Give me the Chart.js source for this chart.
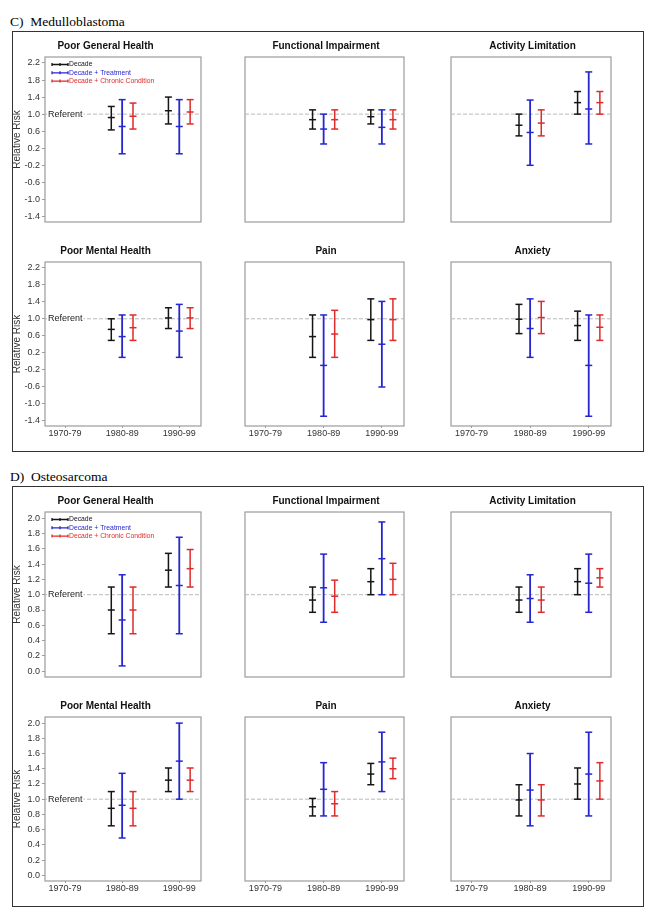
<!DOCTYPE html>
<html>
<head>
<meta charset="utf-8">
<script src="https://cdn.jsdelivr.net/npm/chart.js@4.4.0/dist/chart.umd.min.js"></script>
<style>
  body { margin: 0; background: #fff; width: 654px; height: 915px; position: relative; overflow: hidden; }
  .panel { position: absolute; left: 12px; width: 632px; border: 1.5px solid #333; box-sizing: border-box; }
  .head { position: absolute; left: 10px; font-family: "Liberation Serif", "Times New Roman", serif; font-size: 13.5px; line-height: 15px; white-space: pre; color: #000; }
  canvas { position: absolute; }
</style>
</head>
<body>
<div class="head" style="top:14px">C)  Medulloblastoma</div>
<div class="panel" style="top:31px;height:421px"></div>
<div class="head" style="top:469px">D)  Osteosarcoma</div>
<div class="panel" style="top:486px;height:421px"></div>

<script>
const decades = ["1970-79", "1980-89", "1990-99"];
const outcomes = ["Poor General Health", "Functional Impairment", "Activity Limitation",
                  "Poor Mental Health", "Pain", "Anxiety"];
const seriesNames = ["Decade", "Decade + Treatment", "Decade + Chronic Condition"];
const referent = 1.0;
const ticksMed = [2.2, 1.8, 1.4, 1.0, 0.6, 0.2, -0.2, -0.6, -1.0, -1.4];
const ticksOsteo = [2.0, 1.8, 1.6, 1.4, 1.2, 1.0, 0.8, 0.6, 0.4, 0.2, 0.0];

// [lower, estimate, upper] for 1980-89 then 1990-99, one row per outcome
const medDecade = [
  [[0.63, 0.92, 1.18], [0.77, 1.08, 1.40]],
  [[0.65, 0.87, 1.10], [0.77, 0.94, 1.10]],
  [[0.49, 0.74, 1.00], [1.00, 1.27, 1.53]],
  [[0.49, 0.75, 1.00], [0.77, 1.02, 1.26]],
  [[0.09, 0.58, 1.09], [0.49, 0.98, 1.47]],
  [[0.65, 0.99, 1.34], [0.49, 0.84, 1.18]]
];
const medTreatment = [
  [[0.07, 0.71, 1.34], [0.07, 0.71, 1.34]],
  [[0.30, 0.65, 1.00], [0.30, 0.69, 1.10]],
  [[-0.20, 0.57, 1.33], [0.30, 1.12, 1.99]],
  [[0.09, 0.58, 1.09], [0.09, 0.71, 1.34]],
  [[-1.30, -0.10, 1.09], [-0.61, 0.40, 1.41]],
  [[0.09, 0.77, 1.47], [-1.30, -0.10, 1.09]]
];
const medChronic = [
  [[0.65, 0.95, 1.26], [0.77, 1.05, 1.34]],
  [[0.65, 0.87, 1.10], [0.65, 0.87, 1.10]],
  [[0.49, 0.79, 1.10], [1.00, 1.27, 1.53]],
  [[0.49, 0.79, 1.09], [0.77, 1.02, 1.26]],
  [[0.09, 0.64, 1.20], [0.49, 0.98, 1.47]],
  [[0.65, 1.03, 1.41], [0.49, 0.80, 1.09]]
];
const osteoDecade = [
  [[0.49, 0.80, 1.10], [1.10, 1.32, 1.54]],
  [[0.77, 0.93, 1.10], [1.00, 1.17, 1.34]],
  [[0.77, 0.93, 1.10], [1.00, 1.17, 1.34]],
  [[0.65, 0.88, 1.10], [1.10, 1.25, 1.41]],
  [[0.78, 0.90, 1.01], [1.19, 1.33, 1.47]],
  [[0.78, 0.99, 1.19], [1.00, 1.20, 1.41]]
];
const osteoTreatment = [
  [[0.07, 0.67, 1.26], [0.49, 1.12, 1.75]],
  [[0.64, 1.09, 1.53], [1.00, 1.47, 1.95]],
  [[0.64, 0.95, 1.26], [0.77, 1.15, 1.53]],
  [[0.49, 0.92, 1.34], [1.00, 1.50, 2.00]],
  [[0.78, 1.13, 1.48], [1.10, 1.49, 1.88]],
  [[0.65, 1.12, 1.60], [0.78, 1.33, 1.88]]
];
const osteoChronic = [
  [[0.49, 0.80, 1.10], [1.10, 1.34, 1.59]],
  [[0.77, 0.98, 1.19], [1.00, 1.20, 1.41]],
  [[0.77, 0.93, 1.10], [1.10, 1.22, 1.34]],
  [[0.65, 0.88, 1.10], [1.10, 1.25, 1.41]],
  [[0.78, 0.94, 1.10], [1.27, 1.40, 1.54]],
  [[0.78, 0.99, 1.19], [1.00, 1.24, 1.48]]
];

const FONT = '"Liberation Sans", Arial, sans-serif';
Chart.defaults.font.family = FONT;
const colors = ["#151515", "#2626cf", "#de2b2b"];
const shift = [-0.19, 0, 0.19];
const X_MIN = -0.35, X_MAX = 2.38;

/* layout of the grid (pixels on the page) */
const cols = [
  { left: 10, right: 220, plotL: 45, plotR: 201 },
  { left: 235, right: 409, plotL: 245, plotR: 407 },
  { left: 440, right: 616, plotL: 451, plotR: 614 }
];
const panels = [
  { rows: [[57, 222], [262, 426]], yMin: -1.53, yMax: 2.34, ticks: ticksMed,
    series: [medDecade, medTreatment, medChronic] },
  { rows: [[512, 677], [717, 881]], yMin: -0.075, yMax: 2.08, ticks: ticksOsteo,
    series: [osteoDecade, osteoTreatment, osteoChronic] }
];

/* plugins */
const frame = {
  id: "frame",
  beforeDatasetsDraw(chart) {
    const { ctx, chartArea: a } = chart;
    ctx.save();
    ctx.strokeStyle = "#9c9c9c";
    ctx.lineWidth = 1.2;
    ctx.strokeRect(a.left, a.top, a.right - a.left, a.bottom - a.top);
    ctx.restore();
  }
};

const referentLabel = {
  id: "referentLabel",
  afterDatasetsDraw(chart) {
    const { ctx, chartArea: a, scales: { y } } = chart;
    const py = y.getPixelForValue(referent);
    ctx.save();
    ctx.font = "9px " + FONT;
    const w = ctx.measureText("Referent").width;
    ctx.fillStyle = "#fff";
    ctx.fillRect(a.left + 2, py - 4, w + 2, 8);
    ctx.fillStyle = "#222";
    ctx.textBaseline = "middle";
    ctx.fillText("Referent", a.left + 3, py);
    ctx.restore();
  }
};

const legendBox = {
  id: "legendBox",
  afterDatasetsDraw(chart) {
    const { ctx, chartArea: a } = chart;
    ctx.save();
    ctx.font = "6.8px " + FONT;
    ctx.textBaseline = "middle";
    chart.data.datasets.slice(0, 3).forEach((ds, i) => {
      const y = a.top + 7.5 + i * 8.3;
      const x0 = a.left + 7, x1 = a.left + 23;
      ctx.strokeStyle = ds.borderColor;
      ctx.lineWidth = 1.3;
      ctx.beginPath();
      ctx.moveTo(x0, y); ctx.lineTo(x1, y);
      [x0, (x0 + x1) / 2, x1].forEach(x => { ctx.moveTo(x, y - 1.5); ctx.lineTo(x, y + 1.5); });
      ctx.stroke();
      ctx.fillStyle = ds.borderColor;
      ctx.fillText(ds.label, x1 + 1, y);
    });
    ctx.restore();
  }
};

function barPoints(rows, s) {
  const pts = [];
  rows.forEach((ci, d) => {
    const x = d + 1 + shift[s];
    ci.forEach(v => pts.push({ x, y: v }));
    pts.push({ x, y: null });
  });
  return pts;
}

panels.forEach((p, pi) => {
  p.rows.forEach(([top, bottom], r) => {
    cols.forEach((c, ci) => {
      const k = r * 3 + ci;
      const bottomRow = r === 1;
      const leftCol = ci === 0;

      const canvas = document.createElement("canvas");
      const w = c.right - c.left;
      const h = (bottom - top) + 22 + (bottomRow ? 18 : 8);
      canvas.width = w; canvas.height = h;
      canvas.style.left = c.left + "px";
      canvas.style.top = (top - 22) + "px";
      canvas.style.width = w + "px";
      canvas.style.height = h + "px";
      document.body.appendChild(canvas);

      const datasets = seriesNames.map((name, s) => ({
        label: name,
        data: barPoints(p.series[s][k], s),
        borderColor: colors[s],
        backgroundColor: colors[s],
        borderWidth: s === 1 ? 1.8 : 1.5,
        pointStyle: "line",
        pointRadius: 3.5,
        pointHoverRadius: 3.5,
        pointBorderWidth: 1.5,
        pointBorderColor: colors[s],
        spanGaps: false,
        tension: 0
      }));
      datasets.push({
        label: "Referent",
        data: [{ x: X_MIN, y: referent }, { x: X_MAX, y: referent }],
        borderColor: "#b9b9b9",
        borderWidth: 1,
        borderDash: [4, 2],
        pointRadius: 0
      });

      const plugins = [frame];
      if (leftCol) plugins.push(referentLabel);
      if (leftCol && !bottomRow) plugins.push(legendBox);

      new Chart(canvas, {
        type: "line",
        data: { datasets },
        plugins,
        options: {
          responsive: false,
          animation: false,
          devicePixelRatio: 1,
          layout: {
            padding: {
              left: leftCol ? 0 : c.plotL - c.left,
              right: c.right - c.plotR,
              top: 0,
              bottom: bottomRow ? 0 : 8
            }
          },
          plugins: {
            legend: { display: false },
            tooltip: { enabled: false },
            title: {
              display: true,
              text: outcomes[k],
              color: "#111",
              font: { size: 10, weight: "bold" },
              padding: { top: 5, bottom: 5 }
            }
          },
          scales: {
            x: {
              type: "linear",
              min: X_MIN,
              max: X_MAX,
              display: bottomRow,
              afterBuildTicks: s => { s.ticks = decades.map((d, i) => ({ value: i })); },
              afterFit: s => { if (bottomRow) s.height = 18; },
              ticks: { callback: v => decades[v], color: "#333", font: { size: 9 }, padding: 0, autoSkip: false, maxRotation: 0 },
              grid: { drawOnChartArea: false, tickLength: 2, color: "#9c9c9c" },
              border: { display: false }
            },
            y: {
              type: "linear",
              min: p.yMin,
              max: p.yMax,
              display: leftCol,
              afterBuildTicks: s => { s.ticks = p.ticks.slice().sort((a, b) => a - b).map(v => ({ value: v })); },
              afterFit: s => { if (leftCol) s.width = c.plotL - c.left; },
              ticks: { callback: v => v.toFixed(1), color: "#333", font: { size: 9 }, padding: 2, autoSkip: false },
              grid: { drawOnChartArea: false, tickLength: 3, color: "#9c9c9c" },
              border: { display: false },
              title: { display: true, text: "Relative Risk", color: "#333", font: { size: 10 }, padding: { top: 1, bottom: 0 } }
            }
          }
        }
      });
    });
  });
});
</script>
</body>
</html>
